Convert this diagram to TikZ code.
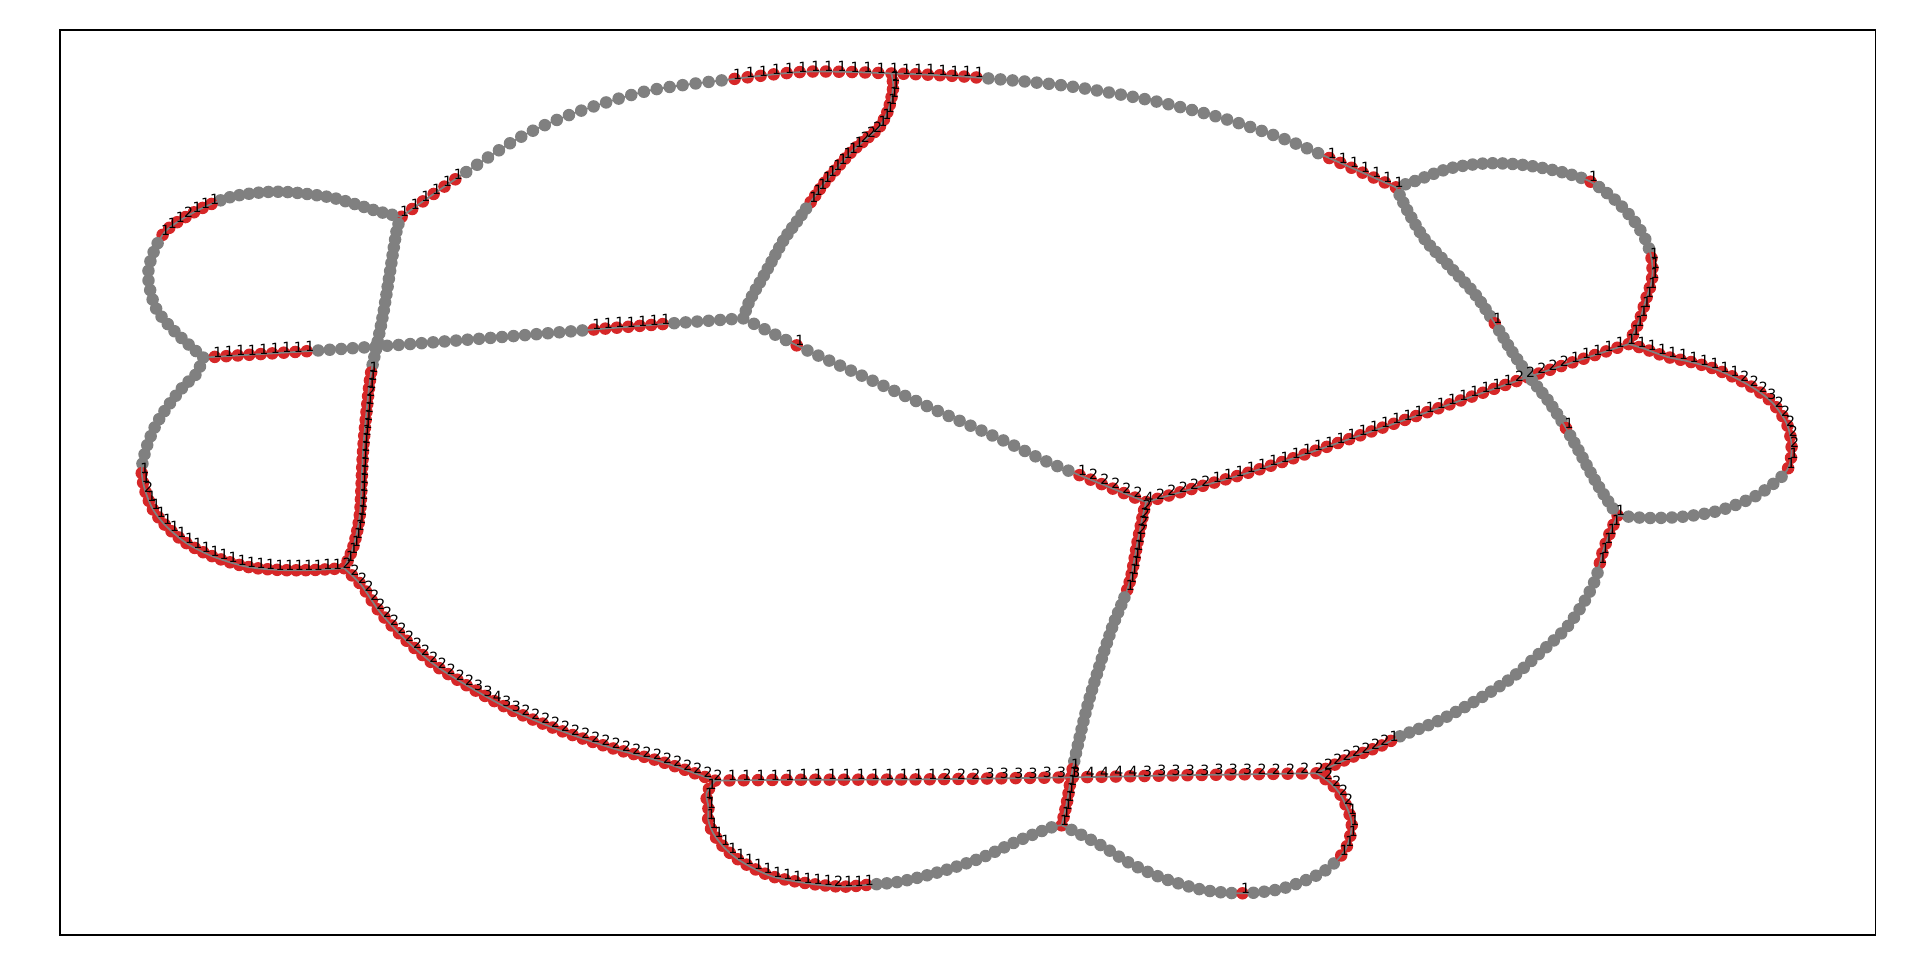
\documentclass[tikz,border=0pt]{standalone}
\usepackage{fontspec}
\setmainfont{DejaVu Sans}
\usetikzlibrary{decorations.markings}
\pgfdeclarelayer{dotL}
\pgfdeclarelayer{lineL}
\pgfdeclarelayer{labL}
\pgfsetlayers{main,dotL,lineL,labL}
\definecolor{tabred}{HTML}{D62728}
\definecolor{ngray}{HTML}{808080}
\newcount\dotidx
\newcount\pickcnt
\newcount\nch
\def\gchar{g}
\def\dotr{5.1pt}
\def\rep#1#2{\ifnum#1>0 #2\expandafter\rep\expandafter{\the\numexpr#1-1\relax}{#2}\fi}
\def\pickchar#1#2{\pickcnt=#1\relax\expandafter\pickloop#2\relax}
\def\pickloop#1{%
  \ifx\relax#1%
    \def\picked{g}\let\pkNext\relax
  \else
    \advance\pickcnt by -1\relax
    \ifnum\pickcnt=0 \def\picked{#1}\let\pkNext\pickgobble
    \else\let\pkNext\pickloop\fi
  \fi\pkNext}
\def\pickgobble#1\relax{}
\def\countchars#1{\nch=0 \expandafter\countloop#1\relax}
\def\countloop#1{\ifx\relax#1\else\advance\nch by 1 \expandafter\countloop\fi}
\def\dotmark{\global\advance\dotidx by 1
  \pickchar{\dotidx}{\chainstr}%
  \pgftransformresetnontranslations
  \ifx\picked\gchar\fill[ngray] (0,0) circle (\dotr);\else\fill[tabred] (0,0) circle (\dotr);\fi}
\def\labmark{\global\advance\dotidx by 1
  \pickchar{\dotidx}{\chainstr}%
  \pgftransformresetnontranslations
  \ifx\picked\gchar\else\node[lbl] at (2.5,-4) {\picked};\fi}
\newcommand\chainX[2]{%
  \edef\chainstr{#2}\countchars{\chainstr}%
  \edef\nn{\the\nch}%
  \pgfmathsetmacro\mstart{1/(\nn+1)}%
  \pgfmathsetmacro\mend{(\nn+0.4)/(\nn+1)}%
  \pgfmathsetmacro\mstep{1/(\nn+1)}%
  \begin{pgfonlayer}{dotL}
    \global\dotidx=0
    \path[postaction={decorate,decoration={markings,mark=between positions \mstart and \mend step \mstep with {\dotmark}}}] #1;
  \end{pgfonlayer}
  \begin{pgfonlayer}{lineL}
    \draw[edge] #1;
  \end{pgfonlayer}
  \begin{pgfonlayer}{labL}
    \global\dotidx=0
    \path[postaction={decorate,decoration={markings,mark=between positions \mstart and \mend step \mstep with {\labmark}}}] #1;
  \end{pgfonlayer}}
\tikzset{
  lbl/.style={font=\fontsize{11.5}{12}\selectfont, inner sep=0pt, text=black},
  edge/.style={draw=ngray, line width=1.4pt},
  jr/.style={circle, fill=tabred, minimum size=10.2pt, inner sep=0pt},
  jg/.style={circle, fill=ngray, minimum size=10.2pt, inner sep=0pt}
}
\begin{document}
\begin{tikzpicture}[x=1pt,y=-1pt]
\useasboundingbox (0,0) rectangle (1568,796);
\fill[white] (0,0) rectangle (1568,796);
\draw[line width=0.9pt] (49,24.5) rectangle (1531.6,763.6);
\begin{pgfonlayer}{dotL}
\node[jr] (A) at (328,177) {};
\node[jg] (C) at (166,292) {};
\node[jg] (D) at (607,260) {};
\node[jr] (E) at (728,60) {};
\node[jr] (F) at (1140,153) {};
\node[jr] (G) at (1330,281) {};
\node[jr] (H) at (936,410) {};
\node[jr] (I) at (1321,421) {};
\node[jr] (J) at (281,464) {};
\node[jr] (K) at (584,637.5) {};
\node[jr] (M) at (867,674) {};
\node[jr] (N) at (1075,631.5) {};
\end{pgfonlayer}
\begin{pgfonlayer}{labL}
\node[lbl] at ([shift={(2.5,-4)}]A.center) {1};
\node[lbl] at ([shift={(2.5,-4)}]E.center) {1};
\node[lbl] at ([shift={(2.5,-4)}]F.center) {1};
\node[lbl] at ([shift={(2.5,-4)}]G.center) {1};
\node[lbl] at ([shift={(2.5,-4)}]H.center) {4};
\node[lbl] at ([shift={(2.5,-4)}]I.center) {1};
\node[lbl] at ([shift={(2.5,-4)}]J.center) {2};
\node[lbl] at ([shift={(2.5,-4)}]K.center) {2};
\node[lbl] at ([shift={(2.5,-4)}]M.center) {1};
\node[lbl] at ([shift={(2.5,-4)}]N.center) {2};
\end{pgfonlayer}
% A -> C upper-left loop
\chainX{plot[smooth] coordinates {(A.center) (310,173) (291,167) (269,161) (237,157) (215,157) (188,161) (161,172) (136,188) (125,207) (121,226) (127,251) (142,270) (C.center)}}{\rep{19}{g}1112111\rep{14}{g}}
% C -> J lower-left loop
\chainX{plot[smooth] coordinates {(C.center) (160.6,304.9) (149.7,315.8) (138.8,329.4) (128,345.7) (119.8,364.8) (115.7,383.8) (118.4,400.2) (125.2,416.5) (136.1,430.1) (152.5,443.7) (174.2,454.6) (201.5,462.8) (228.7,465.5) (255.9,465.5) (J.center)}}{\rep{13}{g}112\rep{23}{1}}
% C -> D
\chainX{plot[smooth] coordinates {(C.center) (240,287.5) (307.6,283) (400,276) (480,269.5) (550,264) (D.center)}}{\rep{9}{1}\rep{24}{g}\rep{7}{1}\rep{6}{g}}
% A -> J
\chainX{plot[smooth] coordinates {(A.center) (324,188) (318.5,222) (313,256) (307.6,283) (302.2,310) (296.7,365) (294,419) (288.5,446.5) (J.center)}}{\rep{19}{g}1112\rep{21}{1}}
% A -> E
\chainX{plot[smooth] coordinates {(A.center) (346,164) (377,143) (425,112) (470,92) (530,74) (595,65) (660,58.5) (E.center)}}{\rep{5}{1}\rep{22}{g}\rep{12}{1}}
% E -> F
\chainX{plot[smooth] coordinates {(E.center) (751,60.7) (794,63) (870,70) (940,82) (1000,97) (1050,114) (1090,131) (F.center)}}{\rep{7}{1}\rep{29}{g}\rep{6}{1}}
% E -> D
\chainX{plot[smooth] coordinates {(E.center) (729.5,70) (727.5,82) (724.5,92) (718,104) (708,113) (699.6,120) (691.5,128) (683.3,137.5) (675,147) (667,158) (660,168) (650,182) (640,196) (625,223) (612.5,245) (D.center)}}{1111111222\rep{10}{1}\rep{16}{g}}
% D -> H
\chainX{plot[smooth] coordinates {(D.center) (652.6,283) (700,305) (760,333) (820,360) (852,375.7) (884.7,389.3) (H.center)}}{\rep{4}{g}1\rep{25}{g}122222}
% H -> G
\chainX{plot[smooth] coordinates {(H.center) (980,397.4) (1018,386.5) (1056,374.3) (1150,342) (1249,307.6) (G.center)}}{\rep{5}{2}\rep{27}{1}\rep{5}{2}\rep{5}{1}}
% F -> G upper-right loop
\chainX{plot[smooth] coordinates {(F.center) (1154,148.4) (1184,137.5) (1214,133.4) (1244,134.7) (1274,140.2) (1299,148.4) (1319,163.3) (1334,179.7) (1344,196) (1349,212.3) (1349,228.7) (1344,245) (1339,261.3) (G.center)}}{\rep{19}{g}1\rep{9}{g}\rep{9}{1}}
% G -> I lower-right loop
\chainX{plot[smooth] coordinates {(G.center) (1342,284.5) (1361,291.3) (1380,295.4) (1399,300.8) (1418,309) (1434.6,318.5) (1448,329.4) (1459,345.7) (1463,362) (1461.8,378.4) (1455,389.3) (1434,405) (1404,417) (1374,422) (1345,423) (I.center)}}{111111111122232222211\rep{16}{g}}
% F -> I
\chainX{plot[smooth] coordinates {(F.center) (1150,173) (1164,196) (1184,217.8) (1204,239.5) (1219,261.3) (1234,285.8) (1249,307.6) (1264,326.7) (1276.5,345.7) (1289,367.5) (1304,394.7) (I.center)}}{\rep{19}{g}1\rep{14}{g}1\rep{11}{g}}
% I -> N
\chainX{plot[smooth] coordinates {(I.center) (1314,437) (1309,450.5) (1306,462) (1303,473) (1294,491) (1279,513) (1259,532) (1234,554) (1204,573) (1174,589) (1144,601) (1128,609) (1100,620) (N.center)}}{\rep{5}{1}\rep{27}{g}1\rep{7}{2}}
% H -> M
\chainX{plot[smooth] coordinates {(H.center) (934,418) (929,442.4) (924,469.6) (919,486) (909,510.4) (899,540.4) (889,573) (881.5,603) (876,628) (871.4,654.7) (M.center)}}{22221111111\rep{22}{g}\rep{7}{1}}
% J -> K
\chainX{plot[smooth] coordinates {(J.center) (295,477.7) (310,499.5) (330,521.3) (355,543) (385,562) (420,581) (460,597.5) (500,611) (540,622) (K.center)}}{\rep{16}{2}33433\rep{19}{2}}
% K -> N
\chainX{plot[smooth] coordinates {(K.center) (650,636.8) (750,636.5) (875,634.8) (975,633) (N.center)}}{\rep{15}{1}222\rep{7}{3}4444\rep{8}{3}2222}
% K -> M bottom-left loop
\chainX{plot[smooth] coordinates {(K.center) (577,648) (578.5,659) (578.5,670) (582.5,680.5) (590.7,691.4) (601.6,701) (615.2,709.1) (631.5,716) (650.6,720) (669.7,722.7) (688.7,724.1) (707.8,722.7) (735,720) (767.7,711.9) (800.3,701) (833,686) (858.9,675.6) (M.center)}}{\rep{18}{1}2111\rep{19}{g}}
% M -> N bottom-right loop
\chainX{plot[smooth] coordinates {(M.center) (875.2,677.8) (883.4,681.9) (901,691.4) (922.8,705) (950,717.3) (982.7,726.8) (1015.4,729.5) (1048,725.4) (1080.7,711.9) (1098.4,694.2) (1103.9,672.4) (1095.7,650.6) (1086,639) (N.center)}}{\rep{17}{g}1\rep{9}{g}111112222}
\end{tikzpicture}
\end{document}
